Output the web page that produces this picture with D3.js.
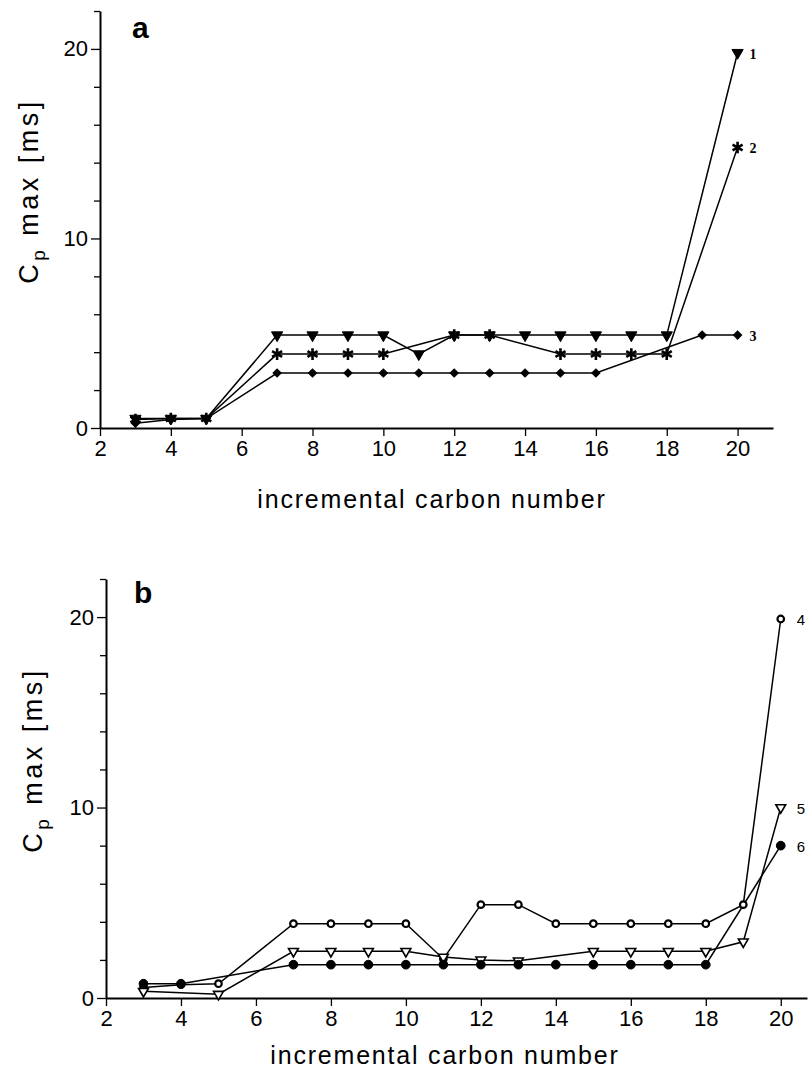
<!DOCTYPE html>
<html lang="en">
<head>
<meta charset="UTF-8">
<title>Cp max vs incremental carbon number</title>
<script src="https://cdnjs.cloudflare.com/ajax/libs/d3/7.8.5/d3.min.js"></script>
<style>
  body { margin: 0; background: #fff; }
  .tick text, .lab { font-family: "Liberation Sans Narrow", "Liberation Sans", Arial, sans-serif; }
</style>
</head>
<body>
<div class="chart"></div>
<script>
  // panel a
  const s1 = [[3,0.5],[4,0.5],[5,0.5],[7,4.9],[8,4.9],[9,4.9],[10,4.9],[11,3.9],[12,4.9],[13,4.9],[14,4.9],[15,4.9],[16,4.9],[17,4.9],[18,4.9],[20,19.8]]
  const s2 = [[3,0.45],[4,0.5],[5,0.5],[7,3.9],[8,3.9],[9,3.9],[10,3.9],[12,4.9],[13,4.9],[15,3.9],[16,3.9],[17,3.9],[18,3.9],[20,14.8]]
  const s3 = [[3,0.25],[4,0.45],[5,0.5],[7,2.9],[8,2.9],[9,2.9],[10,2.9],[11,2.9],[12,2.9],[13,2.9],[14,2.9],[15,2.9],[16,2.9],[19,4.9],[20,4.9]]
  // panel b
  const s4 = [[3,0.55],[4,0.7],[5,0.75],[7,3.9],[8,3.9],[9,3.9],[10,3.9],[11,2.05],[12,4.9],[13,4.9],[14,3.9],[15,3.9],[16,3.9],[17,3.9],[18,3.9],[19,4.9],[20,19.9]]
  const s5 = [[3,0.35],[5,0.2],[7,2.45],[8,2.45],[9,2.45],[10,2.45],[11,2.15],[12,2.0],[13,1.95],[15,2.45],[16,2.45],[17,2.45],[18,2.45],[19,2.95],[20,10.0]]
  const s6 = [[3,0.75],[4,0.75],[7,1.75],[8,1.75],[9,1.75],[10,1.75],[11,1.75],[12,1.75],[13,1.75],[14,1.75],[15,1.75],[16,1.75],[17,1.75],[18,1.75],[20,8.0]]

  const xTicks = [2, 4, 6, 8, 10, 12, 14, 16, 18, 20]
  const yMajor = [0, 10, 20]
  const yMinor = [2, 4, 6, 8, 12, 14, 16, 18, 22]
  const xTitle = 'incremental carbon number'

  const width = 808
  const height = 1078
  const svg = d3.select('.chart').append('svg')
    .attr('width', width)
    .attr('height', height)

  // marker shapes
  const markers = {
    triDown: { type: d3.symbolTriangle, size: 55, rot: 180, fill: '#000', sw: 1 },
    aster: { type: d3.symbolAsterisk, size: 95, rot: 0, fill: 'none', sw: 2.6 },
    diamond: { type: d3.symbolSquare, size: 34, rot: 45, fill: '#000', sw: 1 },
    hex: { type: d3.symbolCircle, size: 34, rot: 0, fill: '#fff', sw: 2.2 },
    triOpen: { type: d3.symbolTriangle, size: 42, rot: 180, fill: '#fff', sw: 1.6 },
    dot: { type: d3.symbolCircle, size: 60, rot: 0, fill: '#000', sw: 1 }
  }

  function drawPanel(p) {
    const x = d3.scaleLinear().domain(p.xDomain).range(p.xRange)
    const y = d3.scaleLinear().domain([0, 22]).range(p.yRange)
    const g = svg.append('g')

    // y axis minor + major ticks
    g.append('g')
      .attr('transform', `translate(${p.xRange[0]},0)`)
      .call(d3.axisLeft(y).tickValues(yMinor).tickSize(6).tickSizeOuter(0).tickFormat(''))
      .call(a => a.select('.domain').remove())
    g.append('g')
      .attr('transform', `translate(${p.xRange[0]},0)`)
      .call(d3.axisLeft(y).tickValues(yMajor).tickSize(9).tickSizeOuter(0).tickPadding(3))
      .call(a => a.selectAll('text').attr('font-size', 22))
      .call(a => a.select('.domain').attr('stroke-width', 2))

    g.append('g')
      .attr('transform', `translate(0,${p.yRange[0]})`)
      .call(d3.axisBottom(x).tickValues(xTicks).tickSize(8).tickSizeOuter(0).tickPadding(4))
      .call(a => a.selectAll('text').attr('font-size', 22))
      .call(a => a.select('.domain').attr('stroke-width', 2))
    g.selectAll('.tick line').attr('stroke-width', 1.3)

    // titles
    g.append('text').attr('class', 'lab')
      .attr('x', p.xTitlePos[0]).attr('y', p.xTitlePos[1])
      .attr('text-anchor', 'middle').attr('font-size', 25)
      .attr('letter-spacing', 1.8)
      .text(xTitle)

    const yl = g.append('text').attr('class', 'lab')
      .attr('transform', `translate(${p.yTitlePos[0]},${y(12.5)}) rotate(-90)`)
      .attr('text-anchor', 'middle').attr('font-size', 27)
      .attr('letter-spacing', 3.5)
    yl.append('tspan').text('C')
    yl.append('tspan').attr('font-size', 19).attr('dy', 7).text('p')
    yl.append('tspan').attr('dy', -7).text(' max [ms]')

    g.append('text')
      .attr('x', p.letterPos[0]).attr('y', p.letterPos[1])
      .attr('font-family', 'Liberation Sans, Arial, sans-serif')
      .attr('font-weight', 'bold').attr('font-size', 30)
      .text(p.letter)

    const line = d3.line().x(d => x(d[0])).y(d => y(d[1]))
    p.series.forEach(s => {
      g.append('path').datum(s.data)
        .attr('d', line)
        .attr('fill', 'none').attr('stroke', '#000').attr('stroke-width', 1.5)
    })
    p.series.forEach(s => {
      const m = markers[s.marker]
      g.selectAll(null).data(s.data).enter().append('path')
        .attr('d', d3.symbol().type(m.type).size(m.size))
        .attr('transform', d => `translate(${x(d[0])},${y(d[1])}) rotate(${m.rot})`)
        .attr('fill', m.fill).attr('stroke', '#000').attr('stroke-width', m.sw)
      const last = s.data[s.data.length - 1]
      g.append('text')
        .attr('x', x(last[0]) + p.labelDx).attr('y', y(last[1]) + 6)
        .attr('font-family', p.labelFont)
        .attr('font-weight', p.labelWeight).attr('font-size', p.labelSize)
        .text(s.name)
    })
  }

  drawPanel({
    xDomain: [2, 21], xRange: [100, 773], yRange: [428, 11],
    xTitlePos: [432, 508], yTitlePos: [38, 0], letterPos: [132, 38], letter: 'a',
    labelDx: 12, labelFont: 'Liberation Serif, Times New Roman, serif', labelWeight: 'bold', labelSize: 14,
    series: [
      { name: '1', data: s1, marker: 'triDown' },
      { name: '2', data: s2, marker: 'aster' },
      { name: '3', data: s3, marker: 'diamond' }
    ]
  })

  drawPanel({
    xDomain: [2, 20.7], xRange: [106, 807], yRange: [998, 579],
    xTitlePos: [445, 1064], yTitlePos: [42, 0], letterPos: [134, 603], letter: 'b',
    labelDx: 16, labelFont: 'Liberation Sans, Arial, sans-serif', labelWeight: 'normal', labelSize: 15,
    series: [
      { name: '4', data: s4, marker: 'hex' },
      { name: '5', data: s5, marker: 'triOpen' },
      { name: '6', data: s6, marker: 'dot' }
    ]
  })
</script>
</body>
</html>
